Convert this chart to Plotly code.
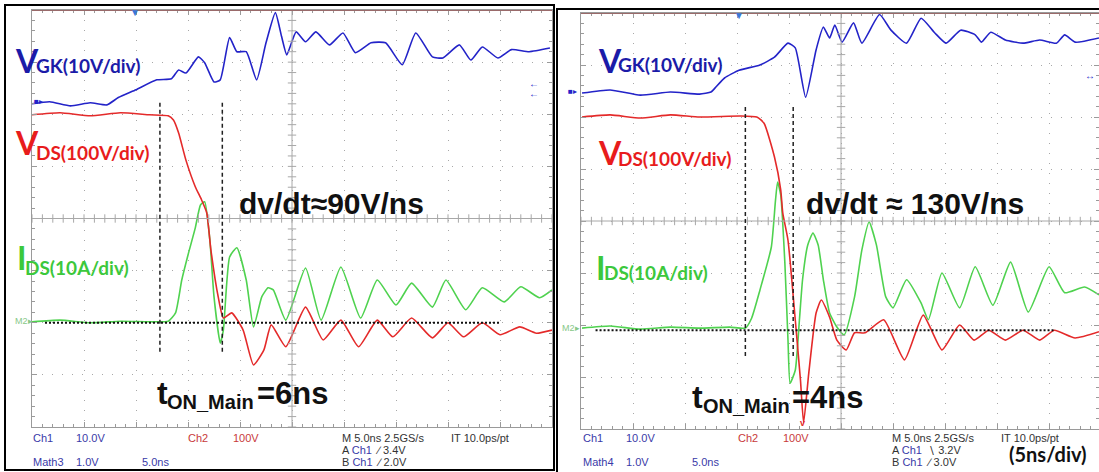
import plotly.graph_objects as go
import numpy as np

W, H = 1099, 472

# ---------------- data: time in ns (5 ns/div), amplitude in screen divisions (0..8) --------------
# Left capture (dv/dt ~ 90 V/ns)
t_vgk_l = [0.0, 1.7, 3.7, 5.6, 7.2, 8.3, 10.0, 12.0, 13.4, 14.1, 14.8, 16.0, 16.6, 17.5, 18.1, 19.0, 19.7,
           20.6, 21.6, 22.5, 23.4, 24.0, 24.5, 25.4, 26.3, 27.3, 28.6, 29.9, 31.1, 32.6, 34.0, 35.6, 36.9,
           38.5, 39.5, 41.1, 42.2, 43.3, 44.8, 46.1, 47.8, 49.8]
vgk_l = [6.20, 6.24, 6.16, 6.22, 6.18, 6.32, 6.47, 6.66, 6.68, 6.85, 6.79, 7.10, 6.99, 6.62, 6.66, 7.47, 7.20,
         7.20, 6.66, 7.37, 7.95, 7.49, 7.14, 7.58, 7.39, 7.58, 7.33, 7.56, 7.18, 7.37, 7.37, 6.95, 7.56,
         7.10, 7.08, 7.33, 7.04, 7.29, 7.08, 7.24, 7.20, 7.27]
t_vds_l = [0.0, 2.7, 5.6, 8.5, 11.3, 13.1, 13.6, 14.1, 14.8, 15.7, 16.3, 16.8, 17.2, 17.9, 18.4, 19.2, 20.3,
           21.3, 22.3, 23.0, 24.4, 26.3, 28.0, 29.7, 31.4, 33.2, 34.7, 36.5, 38.5, 40.0, 41.5, 43.3, 45.0,
           46.9, 48.5, 50.0]
vds_l = [5.99, 6.03, 5.97, 6.03, 5.99, 5.97, 5.89, 5.64, 5.12, 4.61, 4.36, 4.11, 3.40, 2.50, 2.09, 2.19, 1.86,
         1.19, 1.48, 1.96, 1.54, 2.30, 1.67, 2.05, 1.54, 2.05, 1.73, 2.09, 1.71, 2.00, 1.73, 2.00, 1.77,
         1.92, 1.80, 1.86]
t_ids_l = [0.0, 2.7, 5.6, 8.5, 11.3, 13.1, 13.8, 14.4, 15.0, 15.7, 16.2, 16.6, 17.1, 17.5, 18.1, 18.4, 19.0,
           19.7, 20.6, 21.3, 22.1, 22.7, 23.2, 24.4, 26.3, 27.8, 29.7, 31.6, 33.2, 35.0, 36.5, 38.5, 39.8,
           41.7, 43.3, 45.4, 47.0, 48.8, 50.0]
ids_l = [2.02, 2.05, 2.00, 2.03, 2.02, 2.03, 2.19, 2.82, 3.30, 3.82, 4.26, 4.32, 3.59, 2.50, 1.61, 1.86, 3.26,
         3.44, 2.82, 1.92, 2.50, 2.67, 2.63, 2.05, 3.05, 2.05, 3.07, 2.09, 2.82, 2.34, 2.76, 2.30, 2.82,
         2.25, 2.67, 2.40, 2.69, 2.48, 2.63]
t_on_l = [12.3, 18.3]

# Right capture (dv/dt ~ 130 V/ns)
t_vgk_r = [0.1, 2.8, 5.7, 8.6, 11.4, 12.5, 12.9, 13.8, 15.2, 17.2, 18.6, 19.9, 20.6, 21.6, 22.6, 23.3, 23.9,
           24.4, 25.1, 26.2, 27.0, 28.7, 29.8, 31.3, 32.7, 34.0, 35.1, 36.5, 37.9, 38.5, 39.4, 40.8, 42.5,
           44.1, 45.7, 46.5, 47.5, 49.8]
vgk_r = [6.46, 6.52, 6.42, 6.48, 6.44, 6.48, 6.56, 6.75, 6.90, 7.00, 7.15, 7.42, 7.33, 6.38, 7.29, 7.73, 7.52,
         7.77, 7.44, 7.81, 7.42, 7.97, 7.67, 7.42, 7.90, 7.62, 7.42, 7.67, 7.58, 7.44, 7.63, 7.48, 7.42,
         7.48, 7.42, 7.58, 7.44, 7.52]
t_vds_r = [0.1, 2.8, 5.7, 8.6, 11.4, 15.3, 16.9, 17.6, 18.6, 19.2, 19.4, 19.9, 20.6, 21.1, 21.4, 21.9, 22.6,
           23.1, 23.9, 24.6, 25.5, 26.3, 27.3, 29.1, 31.1, 32.9, 34.7, 36.4, 37.8, 39.2, 40.8, 42.5, 44.1,
           45.5, 47.5, 49.8]
vds_r = [6.00, 6.04, 5.98, 6.04, 6.00, 6.02, 6.00, 5.88, 5.23, 4.60, 4.15, 3.63, 2.10, 0.94, 0.12, 1.08, 2.23,
         2.48, 2.15, 1.71, 1.52, 1.85, 1.85, 2.10, 1.33, 2.19, 1.52, 2.00, 1.71, 1.90, 1.71, 1.90, 1.71,
         1.90, 1.75, 1.87]
t_ids_r = [0.1, 2.8, 5.7, 8.6, 11.4, 14.3, 15.8, 16.4, 17.2, 18.3, 18.7, 18.9, 19.2, 19.6, 19.9, 20.1, 20.6,
           21.0, 21.3, 21.8, 22.3, 22.8, 23.3, 23.9, 24.6, 25.3, 26.3, 27.0, 27.7, 28.4, 29.3, 30.0, 31.3,
           32.7, 33.4, 34.7, 36.4, 37.9, 39.6, 41.3, 43.0, 45.0, 46.5, 48.4, 49.8]
ids_r = [1.94, 1.98, 1.92, 1.96, 1.94, 1.96, 1.94, 2.13, 2.67, 3.50, 4.40, 4.75, 4.50, 3.19, 1.71, 0.88, 1.13,
         2.10, 2.87, 3.54, 3.77, 3.54, 2.87, 2.23, 1.96, 1.81, 2.54, 3.44, 3.98, 3.54, 2.54, 2.33, 2.87,
         2.42, 2.10, 3.00, 2.33, 3.12, 2.38, 3.21, 2.25, 3.12, 2.62, 2.73, 2.58]
t_on_r = [15.8, 20.4]

# ---------------- styling ----------------
C_BLUE, C_RED, C_GREEN = "#2323c8", "#e42a2a", "#4fd24f"
L_BLUE, L_RED, L_GREEN = "#1b1ba8", "#e81c1c", "#3cc83c"
GRIDC = "#a8a8a8"

fig = go.Figure()

def add_panel(xa, ya, tv, v, td, d, ti, i):
    for t, y, c in ((ti, i, C_GREEN), (td, d, C_RED), (tv, v, C_BLUE)):
        fig.add_trace(go.Scatter(x=t, y=y, mode="lines", xaxis=xa, yaxis=ya,
                                 line=dict(color=c, width=1.6, shape="spline", smoothing=0.5),
                                 hoverinfo="skip", showlegend=False))

add_panel("x", "y", t_vgk_l, vgk_l, t_vds_l, vds_l, t_ids_l, ids_l)
add_panel("x2", "y2", t_vgk_r, vgk_r, t_vds_r, vds_r, t_ids_r, ids_r)

# centre-line tick marks of the scope graticule
for xa, ya, xmax in (("x", "y", 50), ("x2", "y2", 49.8)):
    tx = np.arange(0, xmax + 0.01, 1.0)
    fig.add_trace(go.Scatter(x=tx, y=[4] * len(tx), mode="markers", xaxis=xa, yaxis=ya,
                             marker=dict(symbol="line-ns", size=6, line=dict(color=GRIDC, width=1)),
                             hoverinfo="skip", showlegend=False, cliponaxis=False))
    ty = np.arange(0, 8.01, 0.2)
    fig.add_trace(go.Scatter(x=[25] * len(ty), y=ty, mode="markers", xaxis=xa, yaxis=ya,
                             marker=dict(symbol="line-ew", size=6, line=dict(color=GRIDC, width=1)),
                             hoverinfo="skip", showlegend=False, cliponaxis=False))

def axis(domain, rng, dt, mdt):
    return dict(domain=domain, range=rng, dtick=dt, tick0=0, showgrid=True, gridcolor=GRIDC,
                griddash="1px,9px", gridwidth=1, zeroline=False, showline=True, mirror="allticks",
                linecolor="#9a9a9a", linewidth=1, ticks="inside", ticklen=5, tickcolor="#9a9a9a",
                minor=dict(dtick=mdt, ticks="inside", ticklen=3, tickcolor="#9a9a9a", showgrid=False),
                showticklabels=False, fixedrange=True)

fig.update_layout(
    width=W, height=H, margin=dict(l=0, r=0, t=0, b=0),
    paper_bgcolor="white", plot_bgcolor="white", showlegend=False,
    xaxis=axis([32 / W, 552 / W], [0, 50], 5, 1),
    yaxis=axis([1 - 427 / H, 1 - 10 / H], [0, 8], 1, 0.2),
    xaxis2=axis([581 / W, 1.0], [0, 49.8], 5, 1),
    yaxis2=axis([1 - 429 / H, 1 - 13 / H], [0, 8], 1, 0.2),
)
fig.layout.xaxis2.anchor = "y2"
fig.layout.yaxis2.anchor = "x2"

shapes = []
for xr, yr, xmax, ton, y0, y1, zl, zx in (("x", "y", 50, t_on_l, 6.22, 1.42, 2.00, (1.25, 45.0)),
                                           ("x2", "y2", 49.8, t_on_r, 6.19, 1.38, 1.90, (1.4, 45.5))):
    shapes.append(dict(type="line", xref=xr, yref=yr, x0=25, x1=25, y0=0, y1=8,
                       line=dict(color=GRIDC, width=1)))
    shapes.append(dict(type="line", xref=xr, yref=yr, x0=0, x1=xmax, y0=4, y1=4,
                       line=dict(color=GRIDC, width=1)))
    shapes.append(dict(type="line", xref=xr, yref=yr, x0=0, x1=xmax, y0=8, y1=8,
                       line=dict(color="#9a6a6a", width=2)))
    for tt in ton:
        shapes.append(dict(type="line", xref=xr, yref=yr, x0=tt, x1=tt, y0=y0, y1=y1,
                           line=dict(color="#202020", width=1.5, dash="4px,3px")))
    shapes.append(dict(type="line", xref=xr, yref=yr, x0=zx[0], x1=zx[1], y0=zl, y1=zl,
                       line=dict(color="#101010", width=2, dash="2px,2px")))
# outer frames of the two screenshots
shapes.append(dict(type="rect", xref="paper", yref="paper", x0=5 / W, x1=554 / W, y0=1 - 470 / H,
                   y1=1 - 5 / H, line=dict(color="black", width=2)))
shapes.append(dict(type="rect", xref="paper", yref="paper", x0=557 / W, x1=1.02, y0=-0.02,
                   y1=1 - 9 / H, line=dict(color="black", width=2)))
fig.update_layout(shapes=shapes)

anns = []
def ann(x, y, text, size, color, family="Lato", bold=True, xanchor="left"):
    anns.append(dict(x=x / W, y=1 - y / H, xref="paper", yref="paper", text=text, showarrow=False,
                     xanchor=xanchor, yanchor="middle", borderpad=0,
                     font=dict(size=size, color=color, family=family,
                               weight="bold" if bold else "normal")))

# channel labels
for (xv, yv, xs, ys), (xd, yd, xds, yds), (xi, yi, xis, yis) in (
        ((14, 61, 35, 66), (14, 142, 35, 152), (16, 257, 24, 267)),
        ((597, 60, 617, 65), (597, 152, 617, 158), (595, 267, 603, 272))):
    ann(xv, yv, "V", 32, L_BLUE)
    ann(xs, ys, "GK(10V/div)", 19, L_BLUE)
    ann(xd, yd, "V", 32, L_RED)
    ann(xds, yds, "DS(100V/div)", 19, L_RED)
    ann(xi, yi, "I", 32, L_GREEN)
    ann(xis, yis, "DS(10A/div)", 19, L_GREEN)

AR = "Liberation Sans"
ann(238, 203, "dv/dt\u224890V/ns", 30, "#111111", AR)
ann(805, 203, "dv/dt \u2248 130V/ns", 30, "#111111", AR)
ann(156, 393, "t", 32, "#111111", AR)
ann(166, 402, "ON_Main", 20, "#111111", AR)
ann(256, 393, "=6ns", 31, "#111111", AR)
ann(691, 397, "t", 32, "#111111", AR)
ann(702, 406, "ON_Main", 20, "#111111", AR)
ann(791, 397, "=4ns", 31, "#111111", AR)
ann(1008, 454, "(5ns/div)", 20, "#111111")

# scope readout footers
FB, FR, FK = "#3a3aa8", "#c83a3a", "#333333"
for x0, trig_a, trig_b, mth in ((32, "\u2215 3.4V", "\u2215 2.0V", "Math3"),
                                 (582, "\u2216 3.2V", "\u2215 3.0V", "Math4")):
    ann(x0, 438, "Ch1", 11, FB, AR, False)
    ann(x0 + 43, 438, "10.0V", 11, FB, AR, False)
    ann(x0 + 155, 438, "Ch2", 11, FR, AR, False)
    ann(x0 + 200, 438, "100V", 11, FR, AR, False)
    ann(x0 + 309, 438, "M 5.0ns 2.5GS/s", 11, FK, AR, False)
    ann(x0 + 418, 438, "IT 10.0ps/pt", 11, FK, AR, False)
    ann(x0 + 309, 450, "A <span style='color:%s'>Ch1</span>  %s" % (FB, trig_a), 11, FK, AR, False)
    ann(x0 + 309, 462, "B <span style='color:%s'>Ch1</span>  %s" % (FB, trig_b), 11, FK, AR, False)
    ann(x0, 462, mth, 11, FB, AR, False)
    ann(x0 + 43, 462, "1.0V", 11, FB, AR, False)
    ann(x0 + 109, 462, "5.0ns", 11, FB, AR, False)

# small scope markers
ann(14, 321, "M2\u25b8", 9, "#88c888", AR, False)
ann(561, 328, "M2\u25b8", 9, "#88c888", AR, False)
ann(33, 102, "\u25a0\u25b8", 8, C_BLUE, AR, False)
ann(567, 91, "\u25a0\u25b8", 8, C_BLUE, AR, False)
ann(135, 12, "\u25bc", 10, "#3b78d8", AR, False, "center")
ann(739, 15, "\u25bc", 10, "#3b78d8", AR, False, "center")
ann(534, 84, "\u2190", 10, C_BLUE, AR, False, "center")
ann(534, 93, "\u2190", 10, C_BLUE, AR, False, "center")
ann(1090, 75, "\u2194", 10, C_BLUE, AR, False, "center")
ann(802, 423, "v", 9, C_RED, AR, True, "center")

fig.update_layout(annotations=anns)
fig.write_html("out.html")
